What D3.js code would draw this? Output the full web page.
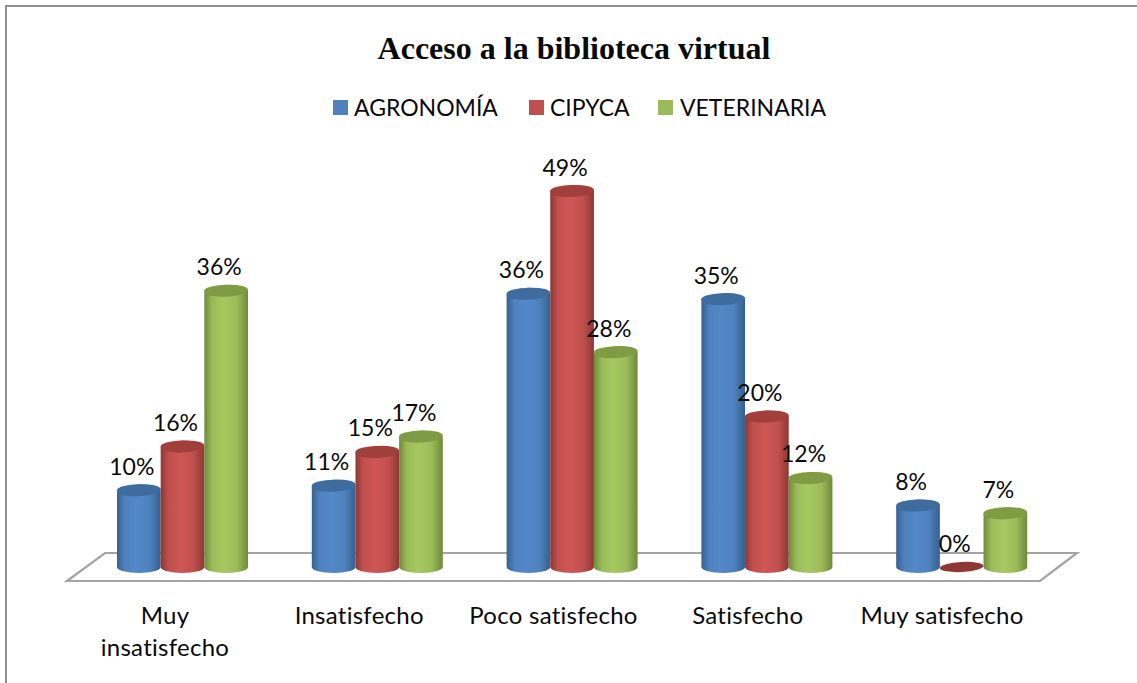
<!DOCTYPE html>
<html><head><meta charset="utf-8">
<script src="https://cdn.jsdelivr.net/npm/d3@7"></script>
<style>html,body{margin:0;padding:0;background:#fff}svg{display:block}
text{font-family:Lato,"Noto Sans",sans-serif;fill:#0a0a0a}</style></head>
<body><div id="c"></div>
<script>
const categories=["Muy insatisfecho","Insatisfecho","Poco satisfecho","Satisfecho","Muy satisfecho"];
const seriesNames=["AGRONOMÍA","CIPYCA","VETERINARIA"];
const agronomia=[10,10.6,35.6,34.9,8];
const cipyca=[15.7,15,49,19.6,0];
const veterinaria=[36,17,28,11.6,7];
const colors=["#4F81BD","#C0504D","#9BBB59"];
const dark=["#35618F","#8E3735","#6F8A3A"];
const topCol=["#3E6C9F","#A13F3C","#7F9C44"];
const light=["#5289C9","#CF5754","#A6C95F"];
const series=[agronomia,cipyca,veterinaria];

const W=1137,H=683;
const svg=d3.select("#c").append("svg").attr("width",W).attr("height",H);
svg.append("path").attr("d",`M6,${H}V6H${W}`).attr("fill","none").attr("stroke","#909090").attr("stroke-width",2);

const defs=svg.append("defs");
colors.forEach((c,i)=>{
  const g=defs.append("linearGradient").attr("id","cyl"+i);
  [[0,dark[i]],[.18,c],[.45,light[i]],[.75,c],[1,dark[i]]].forEach(s=>
    g.append("stop").attr("offset",s[0]).attr("stop-color",s[1]));
});

svg.append("text").attr("x",574).attr("y",59).attr("text-anchor","middle")
  .style("font-family","'Liberation Serif',serif").style("font-weight","700").style("font-size","32px")
  .text("Acceso a la biblioteca virtual");

// legend
const legendX=[333,529,658], textX=[354,550,680];
seriesNames.forEach((n,i)=>{
  svg.append("rect").attr("x",legendX[i]).attr("y",100).attr("width",15).attr("height",15).attr("fill",colors[i]);
  svg.append("text").attr("x",textX[i]).attr("y",115.5).style("font-size","23px").text(n);
});

// scales
const x0=d3.scaleBand().domain(categories).range([85,1059]).paddingInner(0).paddingOuter(0);
const x1=d3.scaleBand().domain(d3.range(3)).range([32,163]);
const y=d3.scaleLinear().domain([0,49]).range([567,191]);
const labelX=d3.scalePoint().domain(categories).range([165,942]);
const pct=d3.format(".0f");

// floor
const floorPts=[[67,581],[105,553],[1077,553],[1040,581]];
svg.append("path").attr("d",d3.line()(floorPts)+"Z").attr("fill","#fff").attr("stroke","#a3a3a3").attr("stroke-width",2.2);

const rx=x1.bandwidth()/2, ry=6;
categories.forEach((cat,ci)=>{
  series.forEach((vals,si)=>{
    const v=vals[ci];
    const cx=x0(cat)+x1(si)+rx, yt=y(v), yb=y(0);
    const g=svg.append("g").attr("class","bar");
    if(v>0){
      g.append("path").attr("d",`M${cx-rx},${yt}L${cx-rx},${yb}A${rx},${ry} 0 0 0 ${cx+rx},${yb}L${cx+rx},${yt}A${rx},${ry} 0 0 0 ${cx-rx},${yt}Z`)
        .attr("fill",`url(#cyl${si})`);
      g.append("ellipse").attr("cx",cx).attr("cy",yt).attr("rx",rx).attr("ry",ry)
        .attr("transform",`rotate(-3 ${cx} ${yt})`).attr("fill",topCol[si]);
    } else {
      g.append("ellipse").attr("cx",cx).attr("cy",yb).attr("rx",rx).attr("ry",ry-1)
        .attr("transform",`rotate(-3 ${cx} ${yb})`).attr("fill",dark[si]);
    }
  });
});
// data labels
categories.forEach((cat,ci)=>{
  series.forEach((vals,si)=>{
    const v=vals[ci];
    const cx=x0(cat)+x1(si)+rx;
    svg.append("text").attr("x",cx-7).attr("y",y(v)-15.5).attr("text-anchor","middle")
      .style("font-size","23px").text(pct(v)+"%");
  });
});
// axis labels
const wrap={"Muy insatisfecho":["Muy","insatisfecho"]};
categories.forEach(cat=>{
  (wrap[cat]||[cat]).forEach((ln,i)=>{
    svg.append("text").attr("x",labelX(cat)).attr("y",624+i*32).attr("text-anchor","middle")
      .style("font-size","24px").style("letter-spacing","0.27px").text(ln);
  });
});
</script></body></html>
